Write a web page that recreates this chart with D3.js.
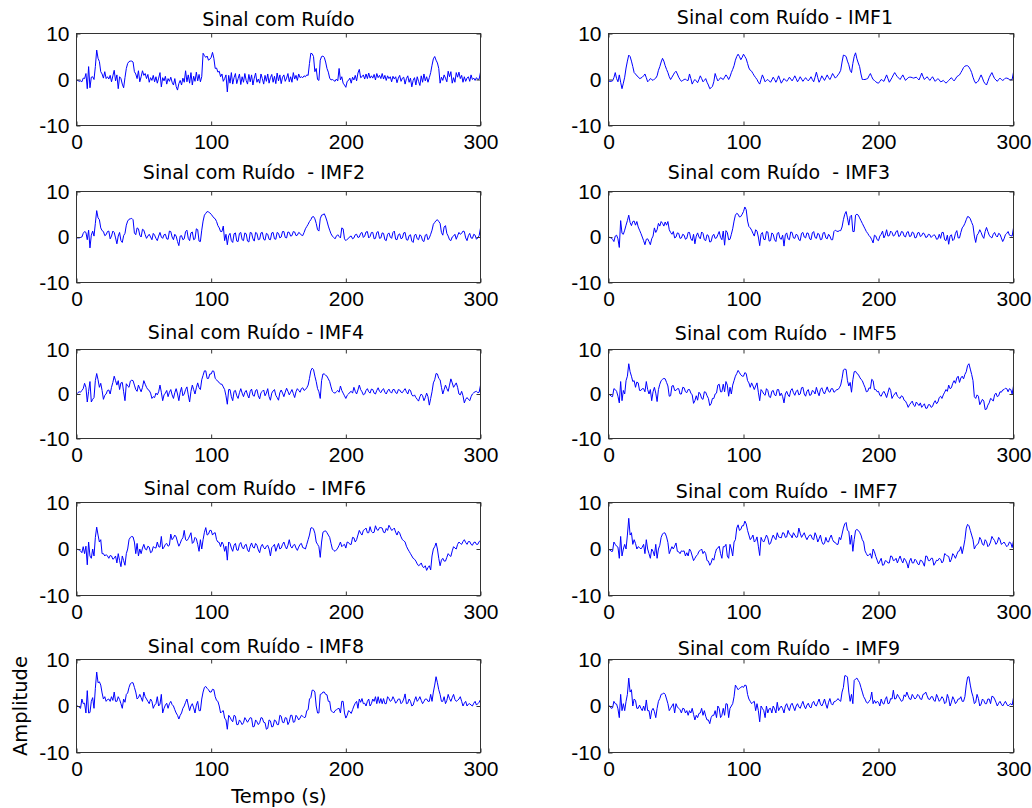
<!DOCTYPE html>
<html>
<head>
<meta charset="utf-8">
<script src="https://cdn.jsdelivr.net/npm/d3@7"></script>
<style>
  html, body { margin: 0; padding: 0; background: #ffffff; }
  svg { display: block; }
  .tick text { font-family: "Liberation Sans", Arial, sans-serif; font-size: 21px; fill: #000; }
  .tick line { stroke: #333; }
  .title { font-family: "DejaVu Sans", Verdana, sans-serif; font-size: 19px; fill: #000; white-space: pre; }
  .axis-label { font-family: "DejaVu Sans", Verdana, sans-serif; font-size: 19.5px; fill: #000; }
</style>
</head>
<body>
<svg id="chart" width="1032" height="808"></svg>
<script>
// ---- data: amplitude sampled every second, from 0 to 300 s ----
const tempo = d3.range(0, 301, 1);

const sinal = [
  -0.3, -0.2, -0.4, -0.3, -0.5, 0.3, 0.2, 1.3, -2.0, 2.8,
  -1.8, 0.5, 0.6, 0.0, 2.8, 6.4, 4.6, 3.9, 1.7, 1.2,
  0.3, 1.7, 0.2, 0.6, 0.1, 0.9, -0.5, 0.8, 2.0, -0.3,
  1.0, -2.0, 0.6, 0.2, -1.0, -1.8, 0.4, 2.4, 3.5, 3.9,
  4.0, 4.0, 3.8, 1.7, 1.2, 0.2, 1.9, -0.5, 0.6, 1.9,
  0.9, 1.3, 0.2, 1.1, -0.6, 0.4, -0.2, 0.9, -0.5, 0.6,
  -0.8, 0.3, 1.5, -1.6, 0.4, -0.3, 0.7, -1.0, 0.2, -0.4,
  0.5, -0.6, -1.2, 0.2, -1.5, -2.3, -0.9, -0.2, -1.2, 0.3,
  -0.6, 1.9, -0.5, 1.0, -0.8, 1.5, -1.2, 0.7, -0.4, 1.6,
  -0.3, 1.1, -0.5, 0.6, 5.7, 5.2, 4.8, 5.1, 4.2, 4.4,
  4.8, 5.9, 4.6, 2.4, 2.5, 1.6, 1.8, 0.6, 1.2, -0.4,
  0.2, 1.0, -2.7, 0.9, -0.8, 1.5, -1.0, 0.4, 1.3, -0.9,
  0.2, 1.2, -1.1, 0.6, -0.6, 1.3, -0.2, -1.0, 1.1, -0.5,
  1.0, -1.2, 0.3, 1.4, -0.6, 0.1, -0.8, 1.2, 0.2, -1.0,
  0.9, -0.4, 1.2, -0.8, 0.4, 1.1, -0.6, 0.7, -0.9, 1.4,
  -0.3, 1.0, -0.9, 0.5, 1.0, -0.4, 0.3, 1.3, -0.5, 0.6,
  -0.6, 1.5, 0.1, 0.9, -0.2, 1.2, 0.4, 0.6, 0.4, 0.8,
  0.6, 1.0, 0.9, 3.5, 5.7, 5.6, 5.0, 1.7, 2.4, 0.0,
  -0.2, 4.2, 5.0, 5.1, 4.8, 3.8, 2.4, 1.6, 0.3, -0.1,
  0.0, -0.2, -0.4, 0.1, -0.3, 2.4, -0.1, 0.6, -0.8, -1.2,
  -1.7, -0.4, -0.2, 0.3, -0.8, 0.5, -0.1, 0.9, -0.3, 1.4,
  2.2, 0.4, 0.6, 1.0, 0.1, 1.2, 0.2, 1.4, 0.3, 0.8,
  0.3, 1.1, -0.1, 1.3, 0.4, 0.9, 0.2, 1.3, 0.1, 0.9,
  -0.2, 0.8, 0.2, 0.6, -0.5, 0.7, 0.1, 0.6, -0.7, 0.3,
  0.9, -0.4, 0.3, 0.5, -1.0, 0.2, 0.8, -0.6, 0.3, -1.6,
  -0.2, 0.4, -1.2, 0.6, -0.4, -1.3, 0.8, -0.6, 1.2, -0.3,
  0.6, -0.6, 0.4, 1.5, 3.1, 4.5, 5.0, 4.2, 3.6, 2.4,
  -0.8, 0.5, -0.2, 1.0, 0.3, -0.5, 1.8, 0.6, 1.7, -0.8,
  0.4, -0.6, 1.5, 0.5, 1.6, 0.2, 0.9, -0.6, 0.6, -0.4,
  0.3, 0.6, -0.4, 1.0, 0.0, 0.3, -0.2, 0.4, 0.0, 0.1,
  1.6
];

const imf1 = [
  -0.4, -0.4, -0.4, -0.3, 0.4, 1.5, 0.2, -0.5, 1.0, -0.6,
  -2.0, -0.8, 0.5, 2.5, 4.0, 5.3, 5.0, 4.0, 2.8, 1.5,
  1.2, 0.8, 0.6, 0.2, 0.3, 0.5, 0.8, 1.2, 0.4, -0.5,
  -0.2, 0.2, 0.0, -0.2, 0.1, 0.3, 0.8, 2.0, 2.8, 3.8,
  4.6, 4.0, 3.0, 2.2, 1.5, 0.6, 0.0, 0.5, 1.0, 1.5,
  1.8, 1.2, 0.5, 0.0, -0.4, -0.2, 0.0, 0.1, -0.2, -0.2,
  1.2, 0.2, -1.0, -0.4, 0.0, -0.3, -0.7, 0.0, 0.8, 0.2,
  -0.5, -0.2, 0.2, -0.6, -1.2, -2.0, -1.8, -1.5, -0.5, 1.3,
  0.4, -0.3, 0.0, 0.4, 0.2, 0.0, 0.5, 1.0, 0.6, 0.0,
  0.6, 1.5, 2.2, 3.0, 4.2, 5.0, 5.5, 5.0, 4.3, 4.8,
  5.5, 5.0, 4.5, 3.5, 2.5, 2.0, 1.8, 1.3, 0.8, 0.4,
  0.0, -0.6, -1.0, 0.0, 1.0, 0.3, -0.5, -0.2, 0.0, -0.3,
  -0.6, -0.1, 0.5, 0.0, -0.6, 0.0, 0.8, 0.0, -0.8, -0.3,
  0.2, -0.1, -0.4, 0.0, 0.5, 0.1, -0.3, 0.2, 0.8, 0.2,
  -0.5, 0.0, 0.6, 0.1, -0.4, 0.0, 0.4, 0.0, -0.3, 0.1,
  0.6, 0.0, -0.5, 0.5, 1.6, 0.4, -0.6, 0.0, 0.8, 0.3,
  -0.2, 0.4, 1.0, 0.4, 0.0, 0.6, 1.3, 0.8, 0.3, 0.6,
  1.0, 1.4, 2.0, 3.8, 5.3, 5.2, 5.0, 4.0, 3.2, 2.0,
  1.5, 3.5, 5.0, 5.8, 4.5, 3.6, 2.8, 1.2, 0.0, 0.0,
  0.0, 0.1, 0.2, 0.8, 1.3, 0.6, 0.0, -0.2, -0.5, -0.7,
  -0.8, -0.4, 0.0, -0.2, -0.4, 0.3, 1.0, 0.2, -0.6, -0.1,
  0.4, 1.0, 1.5, 1.0, 0.6, 0.3, 0.0, 0.5, 1.0, 0.4,
  -0.2, 0.1, 0.4, 0.5, 0.5, 0.4, 0.3, 0.4, 0.5, 0.2,
  -0.1, 0.6, 1.4, 0.6, 0.0, 0.3, 0.6, 0.2, -0.2, 0.2,
  0.6, 0.1, -0.4, -0.1, 0.2, -0.1, -0.5, -0.4, -0.2, -0.5,
  -0.8, -0.5, -0.2, 0.1, 0.4, 0.0, -0.3, 0.1, 0.6, 0.8,
  1.0, 1.5, 2.0, 2.6, 2.9, 3.0, 3.0, 2.7, 2.2, 1.5,
  0.5, -0.3, -0.8, -0.6, -0.3, 0.4, 1.0, 0.3, -0.5, -0.9,
  -1.2, -0.4, 0.4, 1.0, 1.5, 0.8, 0.2, -0.1, -0.4, 0.0,
  0.3, 0.0, -0.2, 0.0, 0.3, 0.3, 0.2, 0.0, -0.1, 0.0,
  1.6
];

const imf2 = [
  -0.2, -0.2, -0.2, -0.1, 0.0, 0.8, 1.2, 1.0, -0.6, 1.5,
  -2.4, 0.4, 1.3, 0.2, 3.0, 5.8, 4.2, 3.8, 2.0, 1.4,
  1.2, 0.3, 0.5, 1.2, 1.3, -0.4, 0.2, 1.3, 1.0, -0.2,
  -1.5, 0.2, 1.0, -0.8, -1.2, 0.3, 0.8, 2.6, 3.5, 3.9,
  4.0, 4.1, 3.8, 0.9, 0.5, 2.0, 1.8, 0.4, 0.0, 1.7,
  1.5, 0.5, -0.3, 0.2, 0.6, 0.0, -0.6, 0.8, 0.4, -0.3,
  -0.8, 0.2, 1.0, 0.0, -0.3, 0.5, 0.6, -0.4, -0.5, 1.3,
  1.2, 0.0, -0.6, 0.6, 0.2, -1.0, -1.9, 0.2, 0.3, -0.6,
  -0.4, 1.2, 1.5, -0.3, -0.8, 0.9, 1.1, -0.6, -0.4, 1.8,
  1.6, -0.9, -1.0, 1.5, 3.5, 4.8, 5.2, 5.6, 5.5, 5.3,
  5.0, 4.6, 4.2, 4.0, 3.4, 2.5, 2.0, 1.2, 1.2, 2.4,
  -0.8, 0.6, -1.7, 0.3, 0.8, -0.8, -1.2, 0.7, 0.9, -0.9,
  -1.0, 0.8, 1.0, -0.6, -0.8, 0.9, 0.7, -0.9, -1.1, 1.0,
  0.9, -0.4, -0.9, 1.0, 0.8, -0.6, -0.5, 0.9, 1.0, -0.5,
  -0.7, 0.8, 0.6, -0.5, -0.6, 0.9, 1.0, -0.4, -0.5, 1.0,
  0.8, -0.2, 0.0, 1.2, 1.2, -0.1, -0.2, 1.1, 1.0, 0.2,
  0.3, 1.2, 1.1, 0.3, 0.4, 1.0, 0.8, 0.4, 0.3, 1.0,
  1.8, 2.3, 2.8, 3.4, 3.8, 4.4, 4.5, 4.0, 3.0, 1.6,
  1.3, 4.0, 4.8, 4.9, 5.1, 4.4, 3.5, 2.4, 1.5, 0.7,
  0.2, -0.1, -0.4, 0.2, 0.5, 0.1, -0.2, 2.0, 1.8, -0.4,
  -0.8, -0.5, -0.3, 0.1, 0.2, -0.4, -0.2, 0.5, 0.6, -0.1,
  0.0, 0.8, 1.0, -0.1, 0.2, 1.1, 1.2, -0.2, 0.1, 1.0,
  1.0, -0.4, -0.3, 1.0, 1.2, -0.3, -0.2, 0.9, 0.8, -0.6,
  -0.8, 0.6, 0.9, 0.0, -0.3, 1.0, 1.3, -0.5, -0.6, 0.5,
  0.7, -0.4, -0.2, 0.9, 1.0, -0.6, -0.7, 0.3, 0.5, -0.9,
  -1.2, 0.4, 0.6, -0.4, -0.6, 0.5, 0.2, -0.8, -1.0, 0.4,
  0.6, -0.6, -0.2, 0.6, 1.5, 2.8, 3.2, 3.6, 3.8, 3.4,
  3.0, 1.0, 0.4, 2.2, 2.5, 0.8, 0.2, -0.6, -0.8, 0.0,
  0.2, 0.6, -0.5, 0.3, 1.0, 0.6, 0.8, 1.3, 1.2, -0.2,
  -0.8, 0.3, 0.8, -0.2, -0.3, 0.6, 0.4, -0.5, -0.2, 0.3,
  2.0
];

const imf3 = [
  0.0, -0.1, -0.2, -0.5, -1.0, 0.2, 0.4, -0.4, -2.3, 3.6,
  0.8, 0.6, 1.5, 2.6, 3.6, 4.8, 3.2, 2.5, 3.4, 3.5,
  2.6, 3.4, 2.2, 1.5, 0.8, 0.0, -0.8, -1.7, -0.5, -0.4,
  -1.0, -1.7, -0.4, 0.2, 2.0, 1.0, 1.6, 3.0, 2.4, 3.4,
  3.0, 2.4, 3.3, 2.6, 3.4, 1.6, 1.0, 0.6, 1.2, -0.2,
  0.0, 0.9, 0.8, -0.3, -0.2, 0.6, 0.4, -0.5, -0.3, 1.0,
  1.0, -0.4, -0.8, 0.6, -1.5, 0.2, 0.9, 0.0, -0.4, 1.1,
  0.8, -0.6, -0.8, 0.5, 0.3, -1.1, -1.0, 0.2, 0.6, -0.3,
  -0.2, 0.5, 1.2, -0.1, -0.6, 1.3, -1.8, 1.4, 1.0, -0.6,
  -0.5, 0.6, 1.8, 3.5, 4.8, 5.2, 5.0, 4.4, 4.5, 5.0,
  5.6, 6.6, 6.0, 3.5, 2.3, 2.0, 1.5, 0.8, 0.2, 1.6,
  1.3, 0.0, -1.9, 0.6, 1.0, -0.5, -0.6, 1.2, 1.1, -0.9,
  -0.8, 0.9, 0.6, -0.6, -1.0, 0.8, 1.0, -0.3, -0.5, 0.4,
  -2.0, 0.5, 0.9, -0.4, -0.6, 1.1, 1.0, -0.2, -0.3, 0.6,
  0.4, -0.6, -0.8, 0.8, 1.0, 0.0, -0.2, 0.9, 0.8, -0.4,
  -0.6, 0.9, 1.2, -0.1, -0.3, 0.8, 0.6, -0.6, -0.5, 0.9,
  1.0, -0.2, -0.4, 0.6, 0.2, -0.6, -0.6, 1.2, 1.5, 1.3,
  1.2, 1.4, 1.4, 2.2, 3.8, 5.0, 5.6, 4.2, 2.6, 4.5,
  4.8, 1.2, 1.2, 4.8, 5.0, 4.8, 4.2, 3.6, 3.0, 2.4,
  1.8, 1.2, 0.8, 0.3, 0.0, -0.6, -1.3, 0.4, 0.2, -0.6,
  -0.8, 0.2, 0.6, 1.3, -0.2, 0.4, 1.6, 0.2, 0.3, 1.3,
  1.0, 0.2, 0.4, 1.2, 1.4, 0.1, 0.3, 1.2, 1.1, 0.2,
  0.0, 1.0, 1.2, 0.1, 0.2, 1.1, 0.9, -0.2, -0.1, 0.9,
  1.0, 0.1, 0.3, 0.9, 0.7, -0.1, 0.0, 0.6, 0.5, -0.1,
  0.2, 0.5, 0.3, -0.5, -0.4, 0.6, -0.3, 1.0, 1.0, -0.6,
  -0.8, 0.4, -1.6, 0.2, 0.5, -0.8, -0.5, 0.8, 1.4, -0.2,
  -0.2, 1.0, 2.0, 2.4, 3.0, 3.8, 4.5, 4.4, 4.0, 3.2,
  2.5, 0.2, -1.2, 0.4, 0.8, 1.6, 1.0, 0.2, -0.3, 1.2,
  2.1, 1.2, 0.4, 0.0, -0.2, 0.6, 1.0, 0.3, 0.0, 0.8,
  0.6, -0.2, -1.0, -0.4, 0.5, 0.8, 1.2, 0.4, 0.3, 0.2,
  2.0
];

const imf4 = [
  0.0, 0.3, 0.5, 0.4, 0.8, 1.2, 2.4, 1.5, -1.8, 0.6,
  2.8, -1.8, -1.2, -0.8, 3.0, 4.6, 3.2, 1.5, 2.4, 0.8,
  -1.2, -0.3, 0.0, 0.8, 0.9, 0.0, 1.5, 2.6, 4.0, 3.0,
  2.0, 3.0, 1.0, 2.5, 2.6, 0.5, -1.5, 2.3, 1.8, 1.5,
  2.9, 3.1, 3.0, 2.0, 1.0, 0.6, 2.0, 1.2, 0.5, 1.5,
  3.0, 2.2, 1.5, 1.0, 0.8, 0.2, -1.0, -0.6, -0.8, 0.2,
  -0.2, 0.5, 2.0, 0.4, -1.5, -0.2, 0.2, 0.8, -0.6, 0.4,
  1.0, -0.2, -1.0, 0.3, 1.2, 0.0, -1.5, 0.4, 1.5, -0.4,
  0.0, 1.0, 1.6, -0.2, -1.8, 0.6, 2.0, 1.0, 0.0, 1.4,
  2.5, 1.4, 1.0, 3.2, 4.2, 5.2, 5.2, 3.5, 3.5, 4.5,
  4.5, 5.2, 5.1, 3.5, 3.2, 2.8, 2.6, 2.2, 2.2, 1.6,
  1.0, -0.4, -2.3, 1.0, 1.0, -0.6, -1.5, 0.6, 0.8, -0.4,
  -1.0, 0.3, 1.2, 0.2, -0.6, 0.4, 0.8, -0.2, -0.9, 0.6,
  1.1, -0.3, -0.5, 0.8, 1.0, -0.4, -1.1, 0.3, 0.6, 0.9,
  -0.4, 0.2, 1.2, -0.6, -1.4, 0.2, 0.7, 1.0, -0.3, -0.8,
  -1.4, 0.3, 0.9, 0.2, -0.6, 0.4, 1.3, 0.6, -0.2, 0.4,
  1.0, 0.1, -0.8, 0.5, 1.2, 0.8, 0.4, 1.2, 1.4, 0.8,
  1.0, 1.4, 2.0, 3.5, 5.2, 5.8, 5.5, 4.0, 2.8, 1.2,
  0.5, -1.0, 3.0, 4.5, 4.5, 4.2, 4.0, 3.4, 2.8, 1.6,
  0.6, 0.3, 0.2, 0.5, 0.8, 0.4, 1.8, 0.8, 0.2, -0.4,
  -1.0, -0.3, 0.0, 0.4, 0.6, 0.2, 1.5, 0.6, 0.0, 0.9,
  2.0, 1.0, 0.5, -0.2, 0.0, 0.8, 1.2, 0.5, 0.2, 1.1,
  1.0, 0.2, 0.0, 0.8, 1.4, 0.6, 0.3, 0.9, 1.2, 0.4,
  0.0, 0.7, 1.1, 0.5, 0.2, 1.0, 1.0, 0.3, 0.1, 1.0,
  0.9, 0.4, 0.3, 0.8, 1.2, 0.5, 0.0, 1.0, 0.8, -0.2,
  -0.5, -0.2, -0.8, -1.2, -1.6, -0.6, 0.0, -0.4, -1.5, -0.8,
  0.2, -0.6, -2.5, -1.0, 0.5, 2.5, 3.2, 4.6, 4.5, 3.5,
  3.2, 1.5, 0.0, 1.0, 2.0, 1.2, 0.6, 2.0, 3.4, 2.5,
  1.5, 2.0, 2.5, 1.5, 0.0, -0.2, 0.6, -0.4, -2.0, -1.2,
  -0.8, -1.2, -1.5, -0.6, 0.0, 0.3, 0.5, 0.6, 0.3, 0.4,
  2.0
];

const imf5 = [
  0.0, -0.2, -0.5, -0.6, 1.2, 1.0, 0.6, -0.5, -2.0, 2.8,
  -1.5, 0.8, 0.0, 3.0, 4.0, 6.8, 5.0, 4.0, 2.8, 3.0,
  1.5, 2.7, 2.5, 0.8, 0.8, 1.2, 1.2, 0.5, 2.8, 1.0,
  0.0, 1.0, -1.5, 0.5, 1.5, 0.2, -1.7, 1.0, 2.2, 3.0,
  3.3, 3.5, 3.4, 2.6, 1.8, -0.5, -0.4, 1.8, 1.9, 0.8,
  0.8, 1.2, 1.2, 0.0, 0.0, 1.5, 1.4, 0.5, 0.3, 1.0,
  1.0, 0.2, -0.2, -2.1, -1.5, -0.4, -1.4, 0.4, 0.0, -1.0,
  -1.2, 0.5, 0.4, -0.4, -1.0, -2.6, -2.2, -1.0, -1.0, 0.0,
  0.2, 2.0, 2.2, 0.5, 0.5, 2.2, 0.5, 2.8, 2.0, -0.5,
  1.5, 0.0, 2.0, 3.0, 4.0, 4.6, 5.3, 4.8, 4.3, 4.0,
  4.0, 4.8, 4.6, 3.0, 2.5, 1.5, 2.5, 1.8, 1.0, 1.8,
  2.5, 0.4, -1.5, 1.0, 0.6, 0.0, -0.3, 1.2, 0.8, -0.6,
  -0.8, 0.6, 0.8, -0.2, -0.4, 1.0, 1.0, -0.4, 0.2, -0.6,
  -2.0, 0.0, 0.6, -0.2, -0.6, 0.8, 1.2, 0.3, -0.3, 0.6,
  0.9, -0.2, 0.0, 1.4, 1.5, 0.0, -0.5, 0.6, 1.0, -0.3,
  -0.2, 0.8, 0.6, 0.0, 1.5, 0.4, -0.4, 1.0, 1.4, 0.5,
  0.0, 0.8, 1.6, 0.6, 0.4, 1.2, 1.2, 0.4, 0.6, 1.0,
  1.0, 1.4, 2.0, 3.5, 5.4, 5.6, 5.5, 3.0, 1.8, 2.6,
  0.4, 3.2, 5.0, 5.1, 4.6, 4.4, 3.8, 3.3, 3.0, 2.2,
  1.5, 0.5, 0.6, 1.4, 1.2, 3.3, 3.0, 1.0, 1.0, 0.5,
  0.6, -0.3, -0.5, 0.2, 0.6, 0.0, -0.8, 0.3, 1.4, 0.8,
  -1.0, -0.4, 0.0, 0.4, -0.5, -0.8, -1.0, -0.4, -0.6, -1.4,
  -1.6, -2.2, -3.0, -2.4, -2.0, -1.6, -2.5, -2.8, -1.8, -2.2,
  -2.6, -2.0, -3.0, -2.6, -2.2, -3.2, -3.2, -2.4, -2.4, -3.0,
  -2.8, -2.0, -1.5, -2.2, -1.8, -0.8, -0.5, -1.0, -0.2, 0.4,
  1.0, 0.6, 2.0, 1.2, 1.4, 2.4, 3.0, 2.4, 3.6, 4.0,
  2.6, 3.6, 4.0, 3.4, 4.4, 5.0, 6.4, 6.8, 5.6, 4.4,
  3.0, -0.6, -1.0, -0.2, -0.5, -2.4, -1.8, -1.2, -1.6, -3.5,
  -3.4, -2.5, -2.0, -1.0, -1.2, -1.6, -0.2, 0.2, -0.6, -0.4,
  0.5, 0.4, 0.9, 1.0, 1.3, 1.2, 0.5, 1.2, 1.0, 0.0,
  1.8
];

const imf6 = [
  0.0, -0.1, -0.2, -0.4, -0.8, 0.5, -1.0, 0.6, -3.4, 1.5,
  -1.5, -2.0, 0.0, -1.5, 2.5, 4.7, 3.0, 1.5, 2.0, -1.0,
  -1.0, -1.5, -1.2, -1.5, -2.0, -1.4, -1.5, -2.2, -2.0, -1.5,
  -3.0, -1.0, -2.5, -3.8, -1.5, -2.5, -3.5, -1.0, 0.0, 2.0,
  2.5, 2.7, 2.6, 1.5, -1.0, 1.2, -1.5, 0.0, -1.0, 0.2,
  1.0, 0.0, -0.2, 0.6, 0.4, -0.8, -0.6, 0.5, 0.3, 0.2,
  1.5, 0.5, 0.4, 2.7, 0.0, 0.4, 1.0, 1.2, 0.6, 0.8,
  3.2, 2.0, 2.4, 3.0, 2.6, 1.5, 0.6, 1.2, 2.0, 2.4,
  4.0, 2.0, 1.8, 2.2, 2.8, 3.5, 1.2, 1.5, 2.5, 2.2,
  1.0, -0.5, 2.0, 0.0, 2.0, 3.6, 4.6, 3.0, 3.2, 4.0,
  4.0, 3.0, 3.4, 3.5, 2.0, 1.5, 1.4, 0.5, 1.5, 1.0,
  -0.5, 0.6, -2.4, 1.5, 1.2, 0.2, -0.5, 0.8, 1.2, -0.2,
  -0.3, 1.0, 1.4, 0.4, 0.0, 0.8, 1.0, -0.2, -0.6, 0.6,
  1.3, 0.4, 0.2, 1.2, 0.8, -0.2, -0.8, 0.5, 1.0, 0.3,
  0.0, 0.6, 0.8, 0.0, -1.5, 0.3, 0.6, 1.0, -0.5, 0.4,
  1.2, 0.0, 0.2, 1.0, 1.5, 0.6, 0.0, 0.8, 2.0, 0.6,
  0.2, 0.8, 1.0, 0.2, -0.3, 0.4, 1.0, 1.2, 0.3, 0.2,
  0.0, 1.0, 2.0, 3.0, 4.5, 4.6, 4.3, 3.4, 1.5, 1.0,
  0.5, -1.8, 1.5, 3.6, 3.8, 3.9, 3.5, 3.0, 2.5, 1.2,
  0.0, -0.3, -0.5, -0.2, 0.2, 0.8, 1.5, 0.5, 0.8, 1.0,
  0.2, 1.5, 1.4, 1.0, 1.0, 2.5, 2.4, 1.5, 2.0, 3.0,
  4.0, 3.4, 3.0, 4.0, 4.2, 4.5, 3.5, 3.5, 4.8, 3.8,
  3.5, 3.6, 5.0, 4.2, 4.0, 4.6, 4.6, 4.5, 3.6, 3.5,
  4.4, 4.0, 5.1, 4.6, 4.0, 4.2, 4.5, 3.6, 3.0, 3.8,
  3.4, 2.6, 2.0, 1.8, 1.5, 0.6, 0.0, -0.5, -1.0, -1.5,
  -2.0, -2.2, -2.6, -3.2, -3.6, -3.4, -3.0, -3.8, -4.0, -3.6,
  -4.6, -4.0, -3.6, -4.5, -1.5, 0.0, 0.5, 1.3, 0.0, -2.0,
  -3.6, -2.4, -2.0, -2.6, -2.6, -1.8, -1.0, -1.4, -1.6, -0.4,
  0.5, 0.2, 0.0, 1.0, 1.5, 1.2, 1.0, 1.6, 2.0, 1.4,
  1.0, 1.6, 1.6, 1.0, 0.8, 1.4, 1.5, 1.0, 1.0, 1.6,
  1.8
];

const imf7 = [
  0.0, -0.2, -0.5, -0.5, 1.5, 1.0, 0.6, 0.4, -2.0, 2.7,
  -1.5, 0.0, 1.0, 0.0, 3.0, 6.6, 3.0, 3.5, 1.0, 2.0,
  1.2, 0.0, 0.5, 0.3, 0.0, 0.4, 1.0, -1.0, 2.0, 0.0,
  -1.0, -2.0, 0.0, -0.5, -1.5, 1.0, -2.0, 0.0, 0.8, 2.5,
  3.2, 3.5, 3.4, 2.6, 1.4, -1.0, -0.2, 0.5, 0.0, 0.6,
  1.3, -0.5, -0.6, -1.0, -0.4, -0.5, -0.4, -1.5, -0.8, -1.5,
  0.0, -0.5, -1.5, -2.5, -2.0, -1.5, -1.2, -0.5, -0.3, 0.0,
  -1.0, -0.5, -1.0, -2.5, -2.6, -3.5, -3.0, -2.0, -2.4, -1.0,
  0.0, 0.2, 0.6, -1.0, -2.0, 0.5, 0.5, 1.0, -1.5, -2.0,
  1.0, 0.0, -1.5, 1.5, 2.0, 4.5, 5.2, 4.0, 4.2, 5.0,
  5.0, 6.0, 5.4, 4.0, 3.0, 2.0, 2.4, 3.0, 1.5, 1.8,
  2.6, 0.6, -1.4, 2.5, 1.8, 1.5, 2.2, 3.0, 2.4, 1.0,
  1.2, 2.2, 3.0, 2.4, 2.0, 3.5, 2.6, 2.5, 2.4, 3.5,
  3.4, 2.5, 2.6, 4.0, 3.2, 3.0, 2.4, 3.5, 3.0, 2.5,
  2.6, 4.5, 3.4, 2.5, 3.0, 3.5, 2.6, 2.0, 2.6, 3.0,
  3.0, 2.2, 2.0, 3.5, 2.8, 1.5, 2.2, 3.0, 1.6, 1.0,
  1.2, 2.5, 1.6, 1.5, 2.4, 3.0, 2.0, 1.5, 1.4, 1.0,
  1.0, 2.5, 2.0, 3.2, 4.5, 5.4, 5.7, 4.0, 3.8, 1.0,
  3.0, -0.5, 2.0, 4.0, 4.2, 4.0, 3.6, 3.0, 2.0, 1.5,
  -0.4, -1.0, -1.5, -1.2, -1.0, -2.0, 0.0, -0.6, -1.6, -2.4,
  -3.2, -2.6, -2.0, -3.5, -3.4, -2.5, -2.6, -3.0, -3.0, -1.5,
  -1.6, -2.5, -2.4, -2.0, -3.0, -2.2, -1.5, -2.4, -3.0, -2.0,
  -2.4, -3.0, -4.1, -2.6, -2.0, -3.0, -3.0, -2.2, -2.5, -3.2,
  -3.4, -2.4, -2.5, -3.0, -3.7, -1.5, -1.6, -2.5, -2.5, -2.0,
  -2.0, -3.5, -3.0, -2.4, -2.5, -2.0, -2.2, -3.0, -2.6, -1.0,
  -1.2, -1.5, -1.6, -2.8, -2.2, -1.0, -1.4, -2.0, -1.2, -0.5,
  -0.4, 0.5, -1.0, 0.4, 2.0, 4.5, 5.3, 5.0, 4.0, 3.0,
  2.0, 0.0, 0.6, 1.0, 1.2, 2.5, 2.0, 1.0, 0.8, 2.0,
  1.6, 0.5, 0.8, 1.5, 2.7, 2.2, 1.8, 1.0, 1.4, 2.5,
  2.0, 1.0, 1.2, 1.5, 1.0, 0.5, 0.8, 1.5, 1.3, 0.3,
  1.8
];

const imf8 = [
  0.0, 0.0, -0.3, -0.5, 1.5, 0.5, 0.6, -1.5, 3.3, -1.5,
  -1.4, 1.0, 1.8, -0.5, 3.8, 7.3, 5.0, 5.2, 4.5, 2.8,
  1.5, 2.0, 1.0, 1.4, 1.5, 1.0, 2.0, 1.2, 3.0, 1.0,
  1.0, 2.0, 1.4, 0.5, -0.5, 1.5, 0.8, 2.5, 2.8, 4.0,
  4.8, 5.0, 5.0, 4.0, 3.0, 1.5, 1.8, 2.5, 1.8, 1.0,
  3.0, 2.0, 1.5, 1.0, 0.5, 1.5, 1.0, -0.5, 0.2, 0.5,
  2.0, 0.0, 0.4, 2.5, -1.5, -0.5, 0.2, 0.6, -0.5, 0.5,
  1.0, 0.3, 0.0, -0.8, -1.5, -2.0, -2.8, -2.0, -1.5, -0.5,
  0.0, 0.8, 1.5, 0.2, -1.0, 0.0, 0.5, -0.4, -1.5, 0.2,
  1.0, -1.0, -1.0, 1.5, 3.0, 4.0, 4.2, 3.8, 3.5, 3.0,
  3.0, 3.6, 3.5, 2.0, 1.2, 1.0, 0.0, -1.5, -1.2, -1.0,
  -2.6, -3.0, -5.0, -2.0, -2.4, -3.0, -3.4, -2.0, -2.2, -4.0,
  -4.0, -3.0, -3.4, -4.0, -3.6, -2.5, -3.0, -3.5, -3.0, -2.5,
  -2.6, -4.5, -4.4, -3.0, -3.4, -4.0, -3.6, -2.5, -2.6, -3.5,
  -3.6, -5.0, -4.8, -3.0, -3.2, -4.5, -4.4, -3.0, -3.2, -4.0,
  -4.0, -2.0, -2.2, -3.5, -3.6, -2.5, -2.6, -4.0, -3.4, -2.0,
  -2.0, -3.5, -3.4, -2.0, -2.4, -3.0, -2.6, -2.0, -2.2, -2.5,
  -2.4, -1.0, -0.8, 1.5, 1.8, 3.4, 3.4, 3.0, 0.0, -1.5,
  -1.5, 2.5, 2.6, 3.0, 3.0, 2.5, 2.4, 1.0, 1.0, -1.0,
  -1.2, -1.5, -1.0, -0.8, -0.6, -0.5, -1.5, 1.0, 1.0, -1.5,
  -2.6, -2.0, -1.0, -1.2, -1.6, -0.8, 0.0, 0.6, 1.0, -0.5,
  1.5, 0.8, 1.6, 0.5, 0.6, 0.0, 1.0, 1.5, 0.0, 0.5,
  1.5, 1.0, 2.0, 0.5, 2.0, 0.6, 1.6, 0.5, 1.6, 0.5,
  0.5, 2.0, 1.6, 1.0, 1.2, 2.0, 1.4, 0.6, 1.0, 1.5,
  1.5, 0.5, 0.8, 1.5, 2.6, 0.5, 0.6, 1.5, 1.0, 0.0,
  0.2, 1.2, 2.0, 1.0, 1.4, 2.0, 1.2, 0.5, 1.0, 1.5,
  1.5, 1.0, 1.0, 2.5, 1.0, 3.0, 4.5, 6.3, 5.0, 3.5,
  2.5, 1.0, 1.0, 2.0, 0.5, 1.2, 2.5, 1.6, 1.0, 1.8,
  2.5, 1.4, 1.0, 1.2, 1.5, 2.0, 1.0, 0.0, 0.6, 1.0,
  0.0, 0.4, 0.5, 0.2, 0.0, 0.6, 1.0, 0.2, 0.5, 0.8,
  1.4
];

const imf9 = [
  0.0, 0.0, -0.5, -0.4, 1.0, 0.5, 0.4, -0.6, -2.5, 2.5,
  -1.0, 0.5, -1.0, 1.0, 2.5, 6.0, 3.0, 3.5, 0.0, 1.5,
  1.2, -0.5, -0.5, 0.2, -0.5, -1.0, 0.0, -1.0, 1.3, -1.0,
  -1.0, -2.8, -1.0, -0.5, -1.2, -2.5, -0.5, 1.0, 1.6, 2.5,
  2.6, 2.8, 2.5, 1.5, 0.5, -1.0, -0.5, 0.0, 0.5, -1.5,
  0.5, -0.2, -0.5, -0.8, -1.5, -0.5, -0.6, -1.5, -1.0, -2.0,
  -1.0, -1.5, -0.5, -1.8, -3.0, -2.0, -2.5, -1.6, -1.5, -0.5,
  -2.0, -1.0, -2.2, -3.0, -3.0, -3.8, -2.5, -2.0, -2.0, -1.0,
  -2.5, 0.0, -0.5, -2.5, -2.0, -0.5, -2.0, 0.5, 0.4, -2.5,
  -0.5, 0.0, 0.5, 2.0, 4.5, 4.0, 3.5, 3.8, 4.0, 4.2,
  4.0, 4.5, 4.4, 2.5, 1.5, 1.0, 0.5, 0.8, 1.0, -1.0,
  0.5, -1.0, -3.4, 0.0, -0.5, -1.0, -2.5, 0.0, -1.5, -0.6,
  -0.5, -1.5, 0.0, -0.6, -1.5, 0.8, -1.0, -0.4, 0.0, -0.6,
  -1.5, 0.0, 0.5, -0.4, -1.0, 0.2, 0.6, -0.2, -1.0, 0.0,
  0.5, -0.2, -0.5, 0.3, 1.0, 0.0, -0.6, 0.2, 0.6, -0.2,
  -0.4, 0.6, 1.0, 0.2, 0.0, 0.8, 1.5, 0.4, 0.0, 0.6,
  1.5, 0.4, -0.5, 0.8, 1.6, 0.5, 0.2, 0.9, 1.0, 1.2,
  1.6, 1.2, 1.0, 3.0, 4.0, 6.5, 6.5, 6.2, 3.0, 1.0,
  2.5, 0.5, 5.5, 5.8, 6.0, 5.5, 5.0, 4.0, 3.0, 2.0,
  1.5, 0.8, 0.6, 1.0, 1.4, 3.0, 0.5, 1.2, 0.6, 1.0,
  0.8, 0.0, 1.5, 0.6, 0.4, 1.4, 2.0, 0.5, 0.6, 1.6,
  1.5, 3.4, 1.5, 1.6, 2.5, 2.0, 1.5, 1.0, 1.2, 2.4,
  2.0, 3.0, 2.2, 1.5, 1.4, 2.5, 2.0, 1.5, 1.8, 2.5,
  2.2, 1.5, 1.4, 2.5, 2.6, 3.0, 2.2, 1.5, 1.4, 2.0,
  2.0, 1.2, 1.0, 2.5, 1.8, 1.0, 1.4, 2.0, 1.6, 0.5,
  0.8, 2.5, 1.6, 0.0, 0.8, 2.0, 1.4, 0.5, 0.9, 1.5,
  1.5, 2.0, 1.0, 1.0, 2.0, 4.5, 6.2, 6.3, 4.5, 3.0,
  2.0, 0.5, 0.8, 2.5, 1.6, 0.0, 0.4, 1.5, 1.2, 0.5,
  0.5, 1.5, 1.5, 0.5, 2.1, 2.0, 1.5, 0.8, 0.0, 0.6,
  1.0, 0.4, 0.0, 0.5, 1.0, 0.4, 0.0, 0.3, 0.5, 0.2,
  1.8
];

const titles = [
  "Sinal com Ruído",
  "Sinal com Ruído - IMF1",
  "Sinal com Ruído  - IMF2",
  "Sinal com Ruído  - IMF3",
  "Sinal com Ruído - IMF4",
  "Sinal com Ruído  - IMF5",
  "Sinal com Ruído  - IMF6",
  "Sinal com Ruído  - IMF7",
  "Sinal com Ruído - IMF8",
  "Sinal com Ruído  - IMF9"
];

const xTicks = [0, 100, 200, 300];
const yTicks = [-10, 0, 10];
const xDomain = [0, 300];
const yDomain = [-10, 10];
const xLabel = "Tempo (s)";
const yLabel = "Amplitude";

const series = [sinal, imf1, imf2, imf3, imf4, imf5, imf6, imf7, imf8, imf9];

// ---- layout: 5 rows x 2 columns of panels ----
const colLeft  = [76.5, 608.5];
const colRight = [480.5, 1013.5];
const rowTop    = [33.5, 191.5, 349.5, 502.5, 659.5];
const rowBottom = [125.5, 282.5, 438.5, 595.5, 752.5];
const titleCx = [278.5, 785, 254, 779, 256, 786, 255, 787, 256, 789];
const titleBase = [26, 24, 179.3, 179.3, 338.7, 340.3, 495, 497.7, 652.7, 655.3];
const tickLen = 4;

const svg = d3.select("#chart");

series.forEach((values, k) => {
  const row = Math.floor(k / 2), col = k % 2;
  const x0 = colLeft[col], x1 = colRight[col];
  const y0 = rowTop[row], y1 = rowBottom[row];

  const x = d3.scaleLinear().domain(xDomain).range([x0, x1]);
  const y = d3.scaleLinear().domain(yDomain).range([y1, y0]);

  const g = svg.append("g").attr("class", "panel");

  // signal trace
  const line = d3.line()
    .x((d, i) => x(tempo[i]))
    .y(d => y(d));
  g.append("path")
    .datum(values)
    .attr("fill", "none")
    .attr("stroke", "#0000ff")
    .attr("stroke-width", 1)
    .attr("stroke-linejoin", "round")
    .attr("d", line);

  // axes (ticks pointing inward)
  const fmt = d => String(d);
  const bottom = g.append("g").attr("transform", `translate(0,${y1})`)
    .call(d3.axisBottom(x).tickValues(xTicks).tickSizeInner(-tickLen).tickSizeOuter(0).tickPadding(9).tickFormat(fmt));
  const top = g.append("g").attr("transform", `translate(0,${y0})`)
    .call(d3.axisTop(x).tickValues(xTicks).tickSizeInner(-tickLen).tickSizeOuter(0).tickFormat(""));
  const left = g.append("g").attr("transform", `translate(${x0},0)`)
    .call(d3.axisLeft(y).tickValues(yTicks).tickSizeInner(-tickLen).tickSizeOuter(0).tickPadding(7).tickFormat(fmt));
  const right = g.append("g").attr("transform", `translate(${x1},0)`)
    .call(d3.axisRight(y).tickValues(yTicks).tickSizeInner(-tickLen).tickSizeOuter(0).tickFormat(""));
  [bottom, top, left, right].forEach(a => {
    a.select(".domain").remove();
    a.attr("font-family", null).attr("font-size", null);
  });

  // frame
  g.append("rect")
    .attr("x", x0).attr("y", y0)
    .attr("width", x1 - x0).attr("height", y1 - y0)
    .attr("fill", "none")
    .attr("stroke", "#333")
    .attr("stroke-width", 1);

  // title
  g.append("text")
    .attr("class", "title")
    .attr("x", titleCx[k])
    .attr("y", titleBase[k])
    .attr("text-anchor", "middle")
    .attr("xml:space", "preserve")
    .text(titles[k]);
});

// shared axis labels on the bottom-left panel
svg.append("text")
  .attr("class", "axis-label")
  .attr("x", 279)
  .attr("y", 803)
  .attr("text-anchor", "middle")
  .text(xLabel);

svg.append("text")
  .attr("class", "axis-label")
  .attr("transform", "translate(27,706) rotate(-90)")
  .attr("text-anchor", "middle")
  .text(yLabel);
</script>
</body>
</html>
